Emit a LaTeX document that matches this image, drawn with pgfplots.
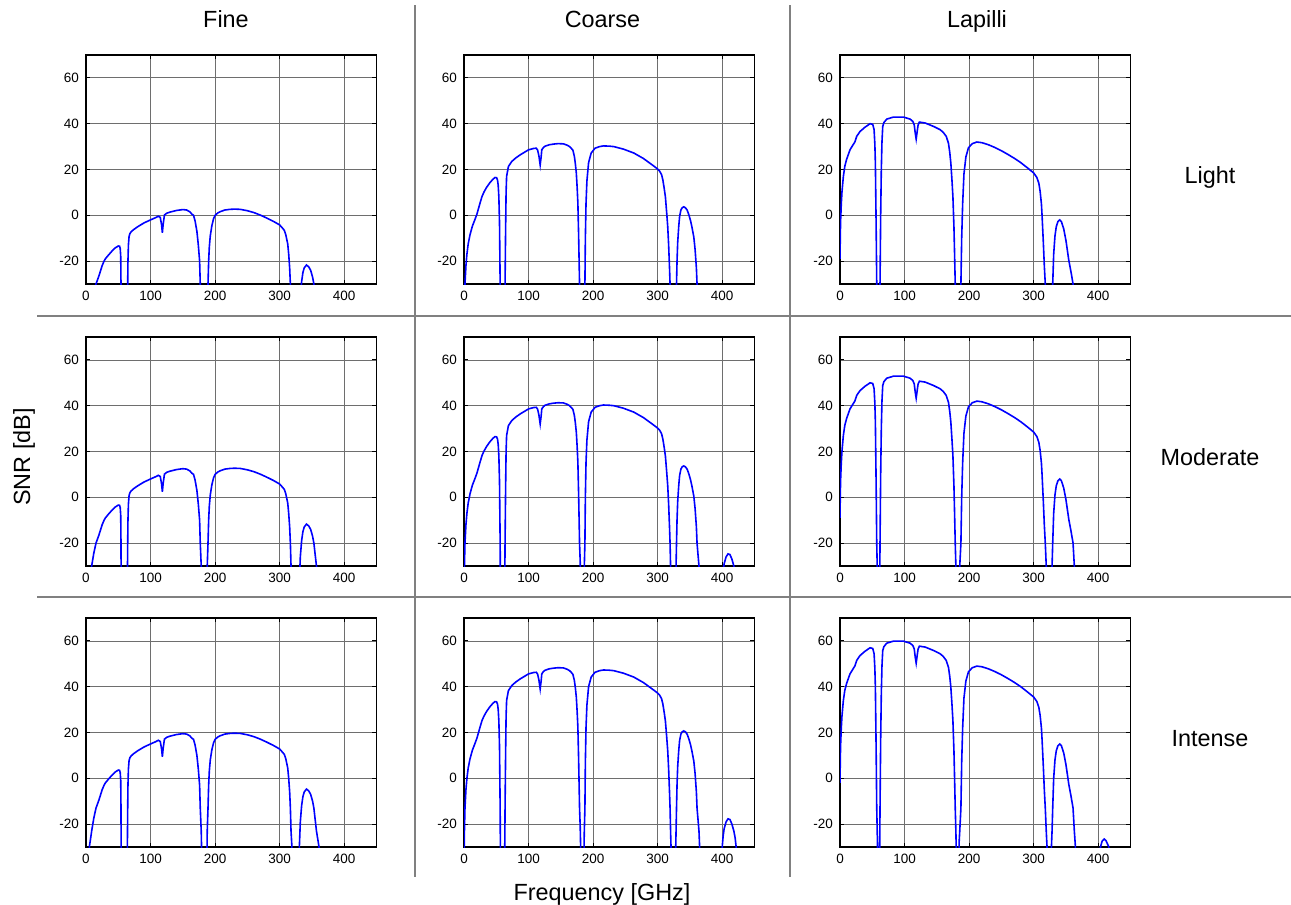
\documentclass[border=0pt]{standalone}
\usepackage{fontspec}
\setmainfont{Liberation Sans}
\usepackage{pgfplots}
\usepackage{pgfplotstable}
\pgfplotsset{compat=1.18}

% SNR for the light (L), moderate (M) and intense (I) cases
\pgfplotstableread{
x L M I
0 -95 -85 -78
3 -58 -48 -41
5.2 -47 -37 -30
8.8 -40 -30 -23
12 -34.5 -24.5 -17.5
15.5 -30 -20 -13
20 -26.5 -16.5 -9.5
25 -22 -12 -5
28 -20 -10 -3
30 -19 -9 -2
35 -17.3 -7.3 -0.3
40 -15.7 -5.7 1.3
45 -14.3 -4.3 2.7
50 -13.4 -3.4 3.6
52 -13.5 -3.5 3.5
53 -14.5 -4.5 2.5
53.8 -18 -8 -1
54.2 -30 -20 -13
54.6 -60 -50 -43
55.5 -95 -85 -78
63.5 -95 -85 -78
64 -50 -40 -33
64.6 -30 -20 -13
65 -20 -10 -3
65.7 -13 -3 4
66.7 -9.3 0.7 7.7
68 -8 2 9
70 -7.2 2.8 9.8
73.5 -6.3 3.7 10.7
80 -5 5 12
90 -3.3 6.7 13.7
100 -2 8 15
108 -1 9 16
112 -0.4 9.6 16.6
115 -0.9 9.1 16.1
117 -4 6 13
118.3 -7.6 2.4 9.4
119.5 -4 6 13
121.5 0.1 10.1 17.1
125 0.9 10.9 17.9
130 1.4 11.4 18.4
140 2.1 12.1 19.1
150 2.5 12.5 19.5
156 2.3 12.3 19.3
161 1.5 11.5 18.5
164 0.5 10.5 17.5
166.6 0 10 17
169 -2.5 7.5 14.5
171.8 -7 3 10
174 -13 -3 4
176 -20 -10 -3
177 -30 -20 -13
178.5 -40 -30 -23
179 -47 -37 -30
180 -95 -85 -78
186.5 -95 -85 -78
187.5 -47 -37 -30
187.8 -40 -30 -23
189 -30 -20 -13
190 -20 -10 -3
191 -14 -4 3
192.5 -9 1 8
195 -4.5 5.5 12.5
197.6 -1.5 8.5 15.5
200 0 10 17
204 1 11 18
208 1.6 11.6 18.6
215 2.3 12.3 19.3
223 2.6 12.6 19.6
230 2.7 12.7 19.7
239 2.6 12.6 19.6
250 2 12 19
260 1.2 11.2 18.2
270 0.1 10.1 17.1
280 -1.2 8.8 15.8
290 -2.6 7.4 14.4
300 -4.2 5.8 12.8
305 -5.8 4.2 11.2
307.3 -6.6 3.4 10.4
309.5 -8.5 1.5 8.5
311 -10.5 -0.5 6.5
312.5 -12.5 -2.5 4.5
314 -17 -7 0
315.5 -23 -13 -6
316.6 -30 -20 -13
317.6 -40 -30 -23
319 -47 -37 -30
320.5 -95 -85 -78
328 -95 -85 -78
330.5 -47 -37 -30
332 -36 -26 -19
334 -29 -19 -12
336 -25 -15 -8
338 -23 -13 -6
341.5 -21.7 -11.7 -4.7
345 -22.5 -12.5 -5.5
348 -24 -14 -7
351 -27 -17 -10
353 -30 -20 -13
357 -40 -30 -23
361 -47 -37 -30
364 -95 -85 -78
450 -95 -85 -78
}\fine

\pgfplotstableread{
x L M I
0 -55 -45 -38
0.5 -42 -32 -25
1.5 -30 -20 -13
3 -22 -12 -5
4.5 -17 -7 0
6.5 -12.5 -2.5 4.5
9.3 -8.5 1.5 8.5
13 -4.7 5.3 12.3
17 -1.8 8.2 15.2
20 0.5 10.5 17.5
22 2.5 12.5 19.5
25 5.5 15.5 22.5
28 8.3 18.3 25.3
31 10.2 20.2 27.2
35 12.2 22.2 29.2
40 14.2 24.2 31.2
45 15.8 25.8 32.8
48 16.5 26.5 33.5
50.5 16.4 26.4 33.4
52 15.3 25.3 32.3
53 13 23 30
54 8 18 25
55 -3 7 14
56 -30 -20 -13
56.5 -55 -45 -38
57 -95 -85 -78
62.5 -95 -85 -78
63.2 -45 -35 -28
63.6 -30 -20 -13
64.5 -5 5 12
65.2 10 20 27
66 17 27 34
68.8 21.3 31.3 38.3
74 23.5 33.5 40.5
80 25 35 42
87 26.4 36.4 43.4
100 28.6 38.6 45.6
108 29.2 39.2 46.2
112 29.3 39.3 46.3
114 28.5 38.5 45.5
116 26 36 43
118 22 32 39
119.5 25.5 35.5 42.5
120.5 28.6 38.6 45.6
123 29.6 39.6 46.6
125.7 30.2 40.2 47.2
132 30.8 40.8 47.8
138.6 31.1 41.1 48.1
146 31.3 41.3 48.3
154 31.2 41.2 48.2
160 30.6 40.6 47.6
163.5 30 40 47
166 29.3 39.3 46.3
168.7 28.4 38.4 45.4
171 25.7 35.7 42.7
172.5 22.5 32.5 39.5
174 18.4 28.4 35.4
175.3 12 22 29
176.4 5.3 15.3 22.3
177.5 -8 2 9
179 -30 -20 -13
180 -38 -28 -21
180.7 -47 -37 -30
182 -95 -85 -78
185.5 -95 -85 -78
186.2 -42 -32 -25
187.3 -30 -20 -13
188 -10 0 7
189 5 15 22
190.4 15 25 32
193 23 33 40
197 27.2 37.2 44.2
203 29.3 39.3 46.3
210 30 40 47
216 30.3 40.3 47.3
225 30.2 40.2 47.2
232 30 40 47
247 28.9 38.9 45.9
263 27.2 37.2 44.2
278 24.8 34.8 41.8
294 21.5 31.5 38.5
300 20.2 30.2 37.2
303 19.3 29.3 36.3
306 17.8 27.8 34.8
308 15.5 25.5 32.5
310 12 22 29
312 8 18 25
314 1 11 18
315.6 -5 5 12
317 -13 -3 4
318.5 -24 -14 -7
319.2 -30 -20 -13
320 -40 -30 -23
320.7 -47 -37 -30
322 -95 -85 -78
327 -95 -85 -78
328 -47 -37 -30
328.5 -40 -30 -23
329.2 -30 -20 -13
330 -20 -10 -3
331 -12 -2 5
332.6 -5 5 12
334 -0.5 9.5 16.5
336 2.3 12.3 19.3
338 3.3 13.3 20.3
340.4 3.7 13.7 20.7
343 3.3 13.3 20.3
345.6 2.3 12.3 19.3
348 0.5 10.5 17.5
350.8 -2.2 7.8 14.8
353 -5 5 12
356 -9.5 0.5 7.5
358 -15 -5 2
360 -23 -13 -6
361 -30 -20 -13
364 -40 -30 -23
365 -47 -37 -30
367 -95 -85 -78
397 -95 -85 -78
400 -47 -37 -30
401.5 -42 -32 -25
403 -39 -29 -22
406 -36 -26 -19
409 -34.7 -24.7 -17.7
412 -35 -25 -18
415 -37 -27 -20
418 -40 -30 -23
420 -43 -33 -26
421.6 -47 -37 -30
424 -95 -85 -78
450 -95 -85 -78
}\coarse

\pgfplotstableread{
x L M I
0 -19 -9 -2
0.5 -8 2 9
1 -2 8 15
2 5 15 22
3 10 20 27
5.2 17 27 34
7.5 21.5 31.5 38.5
10.3 24.5 34.5 41.5
15.5 28.6 38.6 45.6
20.7 31 41 48
23 32 42 49
25.9 34.5 44.5 51.5
31 36.6 46.6 53.6
38.8 38.5 48.5 55.5
46.6 40 50 57
50.7 39.7 49.7 56.7
52.8 37.4 47.4 54.4
54 31 41 48
54.8 22.8 32.8 39.8
56 -5 5 12
56.9 -30 -20 -13
58 -45 -35 -28
59 -95 -85 -78
61 -95 -85 -78
61.5 -47 -37 -30
62 -30 -20 -13
63 0 10 17
64 20 30 37
65 32 42 49
66.2 38.8 48.8 55.8
68 40.5 50.5 57.5
72.4 42 52 59
82.8 42.9 52.9 59.9
98.3 42.9 52.9 59.9
108.6 42 52 59
112.8 41 51 58
115 39.5 49.5 56.5
116.5 36 46 53
118 33.3 43.3 50.3
119.5 36.5 46.5 53.5
121 39.5 49.5 56.5
123 40.7 50.7 57.7
132 40.3 50.3 57.3
145 38.8 48.8 55.8
155 37.4 47.4 54.4
160 36.2 46.2 53.2
164.5 34.5 44.5 51.5
168 31.5 41.5 48.5
170 27.5 37.5 44.5
171.7 22.8 32.8 39.8
173.5 15 25 32
174.9 8.2 18.2 25.2
176.5 -5 5 12
177.5 -17 -7 0
178.5 -30 -20 -13
179.5 -40 -30 -23
180 -47 -37 -30
181 -95 -85 -78
183.5 -95 -85 -78
184.5 -45 -35 -28
185.5 -40 -30 -23
187.3 -30 -20 -13
188.5 -10 0 7
190 5 15 22
192 18 28 35
195 25.5 35.5 42.5
199 29.5 39.5 46.5
205 31.3 41.3 48.3
212 32 42 49
220 31.7 41.7 48.7
230 30.8 40.8 47.8
240 29.6 39.6 46.6
250 28.2 38.2 45.2
260 26.6 36.6 43.6
270 24.9 34.9 41.9
280 23 33 40
290 20.8 30.8 37.8
300 18.5 28.5 35.5
305 16.5 26.5 33.5
308 14 24 31
310 10.5 20.5 27.5
312 5 15 22
313 0 10 17
315 -12 -2 5
316.5 -22 -12 -5
318 -30 -20 -13
319.5 -40 -30 -23
320.7 -47 -37 -30
322 -95 -85 -78
326 -95 -85 -78
327.5 -47 -37 -30
328.5 -40 -30 -23
329.5 -30 -20 -13
331 -17 -7 0
333 -9 1 8
335 -5 5 12
337.5 -2.8 7.2 14.2
340.4 -2 8 15
343 -2.8 7.2 14.2
346.6 -6 4 11
350 -11 -1 6
354.4 -19.6 -9.6 -2.6
358 -25 -15 -8
361 -30 -20 -13
363 -40 -30 -23
364.7 -47 -37 -30
366 -95 -85 -78
400 -95 -85 -78
403.5 -47 -37 -30
406 -44.5 -34.5 -27.5
409.2 -43.5 -33.5 -26.5
412 -44.2 -34.2 -27.2
416.5 -47 -37 -30
419 -95 -85 -78
450 -95 -85 -78
}\lapilli

\definecolor{sepgray}{RGB}{128,128,128}
\definecolor{gridgray}{RGB}{110,110,110}

\pgfplotsset{
  snr/.style={
    scale only axis, width=145.25pt, height=114.5pt,
    anchor=south west,
    xmin=0, xmax=450, ymin=-30, ymax=70,
    xtick={0,100,...,400}, ytick={-20,0,...,60},
    grid=major,
    major grid style={gridgray, line width=0.4pt},
    axis line style={line width=0.8pt},
    tick align=inside, major tick length=2.2pt,
    tick style={black, line width=0.5pt},
    ticklabel style={font=\fontsize{6.75}{8}\selectfont},
    /pgf/number format/assume math mode=true,
  },
  curve/.style={color=blue, line width=0.8pt},
}

\begin{document}
\begin{tikzpicture}
\useasboundingbox (0pt,0pt) rectangle (645.5pt,-452.5pt);

% separators
\draw[sepgray, line width=1pt] (207.5pt,-2.5pt) -- (207.5pt,-438.5pt);
\draw[sepgray, line width=1pt] (395pt,-2.5pt) -- (395pt,-438.5pt);
\draw[sepgray, line width=1pt] (18.5pt,-158pt) -- (645.5pt,-158pt);
\draw[sepgray, line width=1pt] (18.5pt,-298.5pt) -- (645.5pt,-298.5pt);

% row 1: light
\begin{axis}[snr, at={(43pt,-142pt)}]
\addplot[curve] table[x=x, y=L] {\fine};
\end{axis}
\begin{axis}[snr, at={(232pt,-142pt)}]
\addplot[curve] table[x=x, y=L] {\coarse};
\end{axis}
\begin{axis}[snr, at={(420pt,-142pt)}]
\addplot[curve] table[x=x, y=L] {\lapilli};
\end{axis}

% row 2: moderate
\begin{axis}[snr, at={(43pt,-283pt)}]
\addplot[curve] table[x=x, y=M] {\fine};
\end{axis}
\begin{axis}[snr, at={(232pt,-283pt)}]
\addplot[curve] table[x=x, y=M] {\coarse};
\end{axis}
\begin{axis}[snr, at={(420pt,-283pt)}]
\addplot[curve] table[x=x, y=M] {\lapilli};
\end{axis}

% row 3: intense
\begin{axis}[snr, at={(43pt,-423.5pt)}]
\addplot[curve] table[x=x, y=I] {\fine};
\end{axis}
\begin{axis}[snr, at={(232pt,-423.5pt)}]
\addplot[curve] table[x=x, y=I] {\coarse};
\end{axis}
\begin{axis}[snr, at={(420pt,-423.5pt)}]
\addplot[curve] table[x=x, y=I] {\lapilli};
\end{axis}

% titles and labels
\begin{scope}[every node/.style={font=\fontsize{11.7}{14}\selectfont, inner sep=0pt}]
\node[anchor=base] at (113pt,-13.7pt) {Fine};
\node[anchor=base] at (301.25pt,-13.7pt) {Coarse};
\node[anchor=base] at (488.5pt,-13.7pt) {Lapilli};
\node[anchor=base] at (605pt,-91.7pt) {Light};
\node[anchor=base] at (605pt,-232.5pt) {Moderate};
\node[anchor=base] at (605pt,-373.3pt) {Intense};
\node[rotate=90] at (12pt,-228.5pt) {SNR [dB]};
\node[anchor=base] at (301pt,-450pt) {Frequency [GHz]};
\end{scope}
\end{tikzpicture}
\end{document}
